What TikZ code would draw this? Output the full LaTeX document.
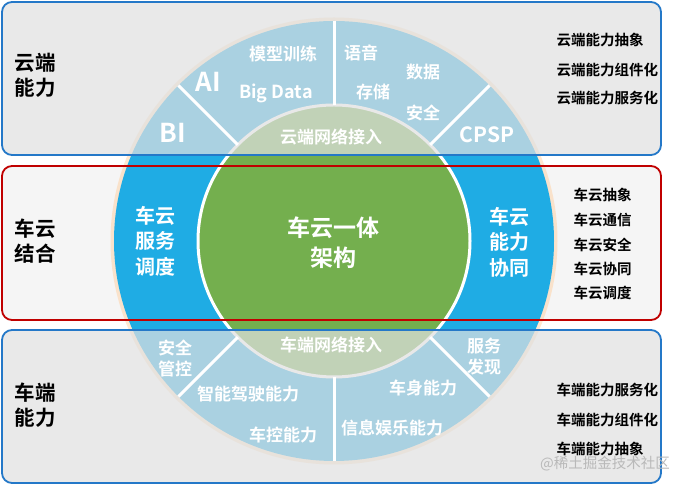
\documentclass[tikz,border=0pt]{standalone}
\usepackage{fontspec}
\setmainfont{Noto Sans CJK SC}[BoldFont={Noto Sans CJK SC Bold}]
\usepackage{tikz}
\usetikzlibrary{positioning}
\definecolor{ringcol}{HTML}{1FACE4}
\definecolor{corecol}{HTML}{74AF4E}
\definecolor{cloudcol}{HTML}{2478C8}
\definecolor{linkcol}{HTML}{C00000}
\definecolor{panelcol}{HTML}{E0E0E0}
\definecolor{midcol}{HTML}{F5F5F5}

\begin{document}
\begin{tikzpicture}[x=1pt,y=1pt,
   panel/.style={rounded corners=10pt,line width=1.8pt},
   side/.style={font=\bfseries\fontsize{20.5}{25}\selectfont,align=center},
   item/.style={font=\bfseries\fontsize{14.5}{17}\selectfont,anchor=west},
   rtxt/.style={text=white,font=\bfseries\fontsize{17}{21}\selectfont,align=center},
   band/.style={text=white,font=\bfseries\fontsize{20}{25.5}\selectfont,align=center},
   big/.style={text=white,font=\bfseries\fontsize{26}{30}\selectfont},
   cut/.style={draw=white,line width=3pt},
]
\useasboundingbox (0,0) rectangle (683,486);
\coordinate (hub) at (334,245);

% ----- middle panel (under the wheel)
\fill[midcol,panel] (2,320) rectangle (661,166);

% ----- wheel
\draw[orange!40,line width=5pt,opacity=0.45] (hub) circle[radius=221];
\fill[ringcol] (hub) circle[radius=220];
\fill[corecol,draw=white,line width=3pt] (hub) circle[radius=136];

% ----- top / bottom panels, see-through
\fill[panelcol,panel,fill opacity=0.72] (2,484) rectangle (661,331);
\fill[panelcol,panel,fill opacity=0.72] (2,156) rectangle (661,3);
\draw[cloudcol,panel] (2,484) rectangle (661,331);
\draw[cloudcol,panel] (2,156) rectangle (661,3);
\draw[linkcol,panel] (2,320) rectangle (661,166);

% ring cuts
\draw[cut,shift={(hub)}] (45:136) -- (45:220);
\draw[cut,shift={(hub)}] (90:136) -- (90:220);
\draw[cut,shift={(hub)}] (135:136) -- (135:220);
\draw[cut,shift={(hub)}] (225:136) -- (225:220);
\draw[cut,shift={(hub)}] (270:136) -- (270:220);
\draw[cut,shift={(hub)}] (315:136) -- (315:220);

% ----- upper ring
\node[big] (ai) at (208,404) {AI};
\node[rtxt] (train) at (283,432) {模型训练};
\node[rtxt,font=\bfseries\fontsize{18}{21}\selectfont] (bigdata) at (276,393) {Big Data};
\node[big] (bi) at (173,353) {BI};
\node[rtxt] (voice) at (361,433) {语音};
\node[rtxt] (data) at (423,414) {数据};
\node[rtxt] (store) at (373,394) {存储};
\node[rtxt] (csafe) at (423,373) {安全};
\node[rtxt,font=\bfseries\fontsize{21}{24}\selectfont] (cpsp) at (487,351) {CPSP};
\node[rtxt] (cnet) at (331,349) {云端网络接入};

% ----- middle band
\node[band] (sched) at (155,245) {车云\\服务\\调度};
\node[band] (coop) at (509,244) {车云\\能力\\协同};
\node[text=white,font=\bfseries\fontsize{23}{30}\selectfont,align=center] (core)
   at (333,243) {车云一体\\架构};

% ----- lower ring
\node[rtxt] (vnet) at (331,141) {车端网络接入};
\node[rtxt] (ctrl) at (175,128) {安全\\管控};
\node[rtxt] (adas) at (248,92) {智能驾驶能力};
\node[rtxt] (vctl) at (283,51) {车控能力};
\node[rtxt] (disc) at (484,129) {服务\\发现};
\node[rtxt] (body) at (423,98) {车身能力};
\node[rtxt] (info) at (392,58) {信息娱乐能力};

% ----- left labels
\node[side] (cloud) at (35,411) {云端\\能力};
\node[side] (link) at (35,245) {车云\\结合};
\node[side] (car) at (35,81) {车端\\能力};

% ----- right lists
\node[item] (c1) at (553,446) {云端能力抽象};
\node[item] (c2) at (553,416) {云端能力组件化};
\node[item] (c3) at (553,388) {云端能力服务化};
\node[item] (m1) at (570,291) {车云抽象};
\node[item] (m2) at (570,266) {车云通信};
\node[item] (m3) at (570,241) {车云安全};
\node[item] (m4) at (570,217) {车云协同};
\node[item] (m5) at (570,193) {车云调度};
\node[item] (v1) at (553,96) {车端能力服务化};
\node[item] (v2) at (553,66) {车端能力组件化};
\node[item] (v3) at (553,37) {车端能力抽象};
\node[text=gray!55,font=\fontsize{14.5}{17}\selectfont] (mark) at (605,22) {@稀土掘金技术社区};
\end{tikzpicture}
\end{document}
